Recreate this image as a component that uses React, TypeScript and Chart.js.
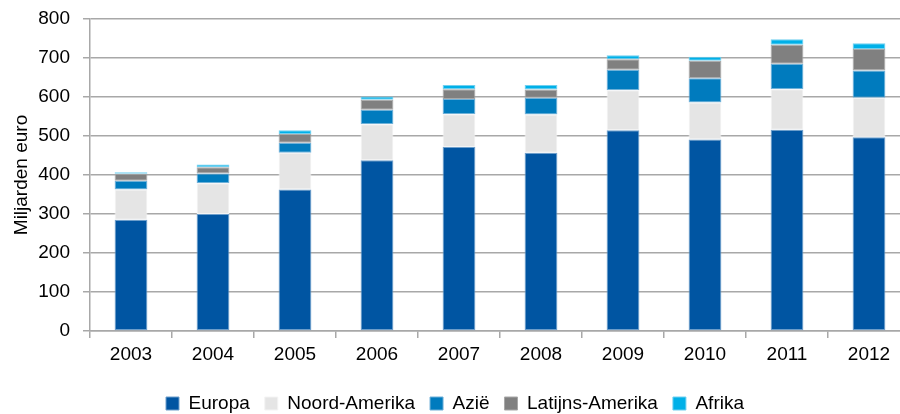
import React, { useEffect, useRef } from "react";
import { Chart, registerables } from "chart.js";

Chart.register(...registerables);

const years = ["2003", "2004", "2005", "2006", "2007", "2008", "2009", "2010", "2011", "2012"];
const europa = [285, 300, 363, 438, 472, 457, 515, 491, 516, 497];
const noordAmerika = [78, 79, 94, 92, 84, 98, 102, 95, 104, 101];
const azie = [22, 25, 26, 37, 39, 43, 53, 62, 65, 70];
const latijnsAmerika = [18, 16, 22, 26, 25, 21, 27, 45, 49, 55];
const afrika = [4, 7, 10, 8, 11, 12, 10, 10, 14, 15];
const yTicks = [0, 100, 200, 300, 400, 500, 600, 700, 800];

const FONT = "'Liberation Sans', Arial, sans-serif";

export default function App() {
  const ref = useRef<HTMLCanvasElement | null>(null);
  useEffect(() => {
    if (!ref.current) return;
    const mk = (label: string, data: number[], color: string, border: string) => ({
      label,
      data,
      backgroundColor: color,
      borderColor: border,
      borderWidth: 1,
      borderSkipped: false as const,
      barPercentage: 0.4,
      categoryPercentage: 1,
    });
    const chart = new Chart(ref.current, {
      type: "bar",
      data: {
        labels: years,
        datasets: [
          mk("Europa", europa, "#0055A2", "#6E9FCC"),
          mk("Noord-Amerika", noordAmerika, "#E5E5E5", "#F4F4F4"),
          mk("Azië", azie, "#007BBE", "#6FB0D8"),
          mk("Latijns-Amerika", latijnsAmerika, "#808080", "#A8A8A8"),
          mk("Afrika", afrika, "#00B0E8", "#70D0F0"),
        ],
      },
      options: {
        animation: false,
        responsive: false,
        devicePixelRatio: 1,
        layout: { padding: { top: 0, left: 0, right: 0, bottom: -9 } },
        plugins: {
          tooltip: { enabled: false },
          legend: {
            position: "bottom",
            labels: {
              boxWidth: 13,
              boxHeight: 13,
              padding: 15,
              color: "#000",
              font: { family: FONT, size: 19 },
            },
          },
        },
        scales: {
          x: {
            stacked: true,
            afterFit: (scale: any) => {
              scale.height = 48;
            },
            grid: {
              offset: true,
              drawOnChartArea: false,
              drawTicks: true,
              tickLength: 7,
              color: "#A8A8A8",
              lineWidth: 1.5,
            },
            border: { color: "#A8A8A8", width: 1.5 },
            ticks: { color: "#000", padding: 5, font: { family: FONT, size: 19 } },
          },
          y: {
            stacked: true,
            min: 0,
            max: 800,
            afterBuildTicks: (scale: any) => {
              scale.ticks = yTicks.map((v) => ({ value: v }));
            },
            afterFit: (scale: any) => {
              scale.width = 90;
              scale.paddingTop = 19;
              scale.paddingBottom = 0;
            },
            grid: { color: "#A8A8A8", lineWidth: 1.5, tickLength: 7 },
            border: { color: "#A8A8A8", width: 1.5 },
            ticks: { color: "#000", padding: 13, font: { family: FONT, size: 19 } },
            title: {
              display: true,
              text: "Miljarden euro",
              color: "#000",
              padding: { top: 10, bottom: 0 },
              font: { family: FONT, size: 19 },
            },
          },
        },
      },
    });
    return () => chart.destroy();
  }, []);
  return (
    <div style={{ position: "fixed", left: 0, top: 0, width: 900, height: 414, overflow: "hidden", background: "#fff" }}>
      <canvas ref={ref} width={910} height={414} style={{ width: 910, height: 414, display: "block" }} />
    </div>
  );
}
